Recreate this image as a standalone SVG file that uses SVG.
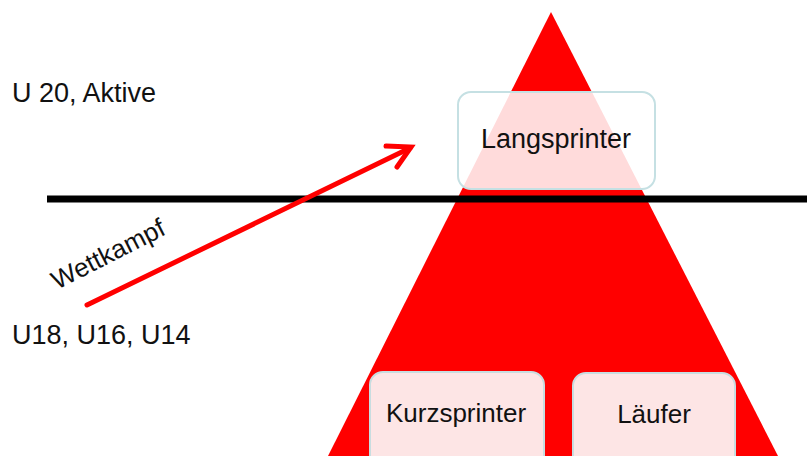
<svg xmlns="http://www.w3.org/2000/svg" width="807" height="456" viewBox="0 0 807 456">
<style>
text{font-family:"Liberation Sans",Arial,sans-serif;font-size:27px;fill:#111}
.box{fill:#fde5e5;stroke:#c8dde0;stroke-width:2}
.c{text-anchor:middle}
</style>
<rect width="807" height="456" fill="#fff"/>
<polygon id="pyramid" points="551,12 328,456 778,456" fill="#ff0000"/>
<g id="connectors">
<line x1="47" y1="199" x2="807" y2="199" stroke="#000" stroke-width="7"/>
<g stroke="#f00" stroke-width="5" stroke-linecap="round" fill="none">
<line x1="87" y1="305" x2="410" y2="148"/>
<polyline points="386,146 411,147 397,167"/>
</g>
<text x="0" y="0" transform="translate(57,290) rotate(-27)" style="font-size:26px">Wettkampf</text>
</g>
<g id="langsprinter">
<rect x="458" y="92" width="197" height="97" rx="13" fill="#fff" fill-opacity="0.86" stroke="#c5e0e3" stroke-width="2"/>
<text class="c" x="556" y="148">Langsprinter</text>
</g>
<g id="kurzsprinter">
<rect class="box" x="370" y="372" width="174" height="100" rx="13"/>
<text class="c" x="456" y="422" style="font-size:26px">Kurzsprinter</text>
</g>
<g id="laeufer">
<rect class="box" x="573" y="373" width="162" height="100" rx="13"/>
<text class="c" x="654" y="423" style="font-size:26px">Läufer</text>
</g>
<text x="12" y="102">U 20, Aktive</text>
<text x="12" y="344">U18, U16, U14</text>
</svg>
